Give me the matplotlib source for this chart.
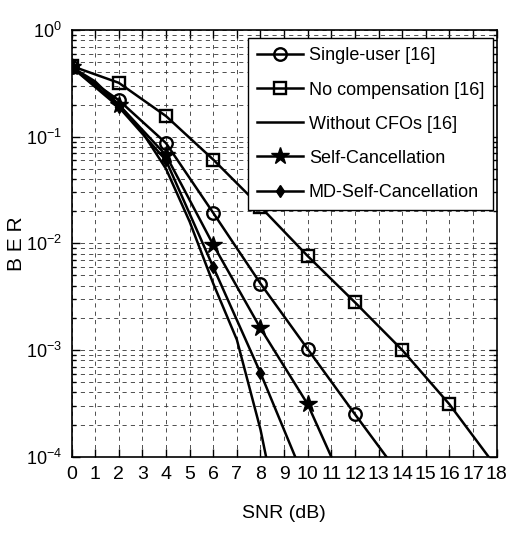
import matplotlib
matplotlib.use("Agg")
import matplotlib.pyplot as plt
from matplotlib import font_manager as fm
from matplotlib.ticker import LogLocator, NullFormatter

# ---------------------------------------------------------------------------
# Data
# ---------------------------------------------------------------------------
snr_single = [0, 2, 4, 6, 8, 10, 12, 14]
ber_single = [0.45, 0.22, 0.087, 0.0193, 0.0042, 0.00102, 2.5e-4, 6.3e-5]

snr_nocomp = [0, 2, 4, 6, 8, 10, 12, 14, 16, 18]
ber_nocomp = [0.46, 0.32, 0.156, 0.061, 0.022, 0.0076, 0.0028, 0.001, 3.1e-4, 7.9e-5]

snr_nocfo = [0, 1, 2, 3, 4, 5, 6, 7, 8, 9]
ber_nocfo = [0.45, 0.33, 0.2, 0.11, 0.05, 0.016, 0.0042, 0.00125, 1.8e-4, 1.5e-5]

snr_self = [0, 2, 4, 6, 8, 10, 12]
ber_self = [0.45, 0.2, 0.067, 0.0097, 0.0016, 3.1e-4, 3.2e-5]

snr_md = [0, 2, 4, 6, 8, 10]
ber_md = [0.45, 0.19, 0.06, 0.006, 6.1e-4, 5.2e-5]

labels = ["Single-user [16]", "No compensation [16]", "Without CFOs [16]",
          "Self-Cancellation", "MD-Self-Cancellation"]
x_ticks = list(range(0, 19))


def pick_font(names):
    for name in names:
        try:
            fm.findfont(name, fallback_to_default=False)
            return name
        except ValueError:
            continue
    return "DejaVu Sans"


font = pick_font(["Liberation Sans Narrow", "Liberation Sans", "Arial"])
plt.rcParams["font.family"] = [font, "DejaVu Sans"]
plt.rcParams["mathtext.fontset"] = "custom"
plt.rcParams["mathtext.rm"] = font
plt.rcParams["mathtext.it"] = font
plt.rcParams["mathtext.bf"] = font

fig = plt.figure(figsize=(5.09, 5.33), dpi=100)
ax = fig.add_axes([0.1405, 0.1431, 0.8353, 0.8006])

lw = 1.8
ax.plot(snr_single, ber_single, "k-", lw=lw, marker="o", ms=9, mfc="none",
        mew=1.7, label=labels[0])
ax.plot(snr_nocomp, ber_nocomp, "k-", lw=lw, marker="s", ms=9, mfc="none",
        mew=1.7, label=labels[1])
ax.plot(snr_nocfo, ber_nocfo, "k-", lw=lw, label=labels[2])
ax.plot(snr_self, ber_self, "k-", lw=lw, marker="*", ms=13, mfc="k",
        mew=1.0, label=labels[3])
ax.plot(snr_md, ber_md, "k-", lw=lw, marker="d", ms=6, mfc="k",
        mew=1.0, label=labels[4])

ax.set_yscale("log")
ax.set_xlim(0, 18)
ax.set_ylim(1e-4, 1)
ax.set_xticks(x_ticks)
ax.yaxis.set_major_locator(LogLocator(base=10, numticks=10))
ax.yaxis.set_minor_locator(LogLocator(base=10, subs=range(2, 10), numticks=10))
ax.yaxis.set_minor_formatter(NullFormatter())

# MATLAB-style dashed grid, minor lines on the log axis too
grid_style = dict(color="0.2", linestyle=(0, (5, 5)), linewidth=0.6)
ax.grid(True, which="major", axis="both", **grid_style)
ax.grid(True, which="minor", axis="y", **grid_style)
ax.set_axisbelow(True)

ax.tick_params(which="both", direction="in", top=True, right=True, width=1.0)
ax.tick_params(which="major", length=6)
ax.tick_params(which="minor", length=3)
ax.tick_params(axis="x", labelsize=14, pad=7)
ax.tick_params(axis="y", labelsize=13, pad=7)
for sp in ax.spines.values():
    sp.set_linewidth(1.2)

ax.set_xlabel("SNR (dB)", fontsize=14)
ax.xaxis.set_label_coords(0.5, -0.113)
ax.xaxis.label.set_va("top")
ax.set_ylabel("B E R", fontsize=15)
ax.yaxis.set_label_coords(-0.108, 0.5)

leg = ax.legend(loc="upper right", bbox_to_anchor=(0.992, 0.9805),
                borderaxespad=0, fontsize=13, handlelength=2.55,
                handletextpad=0.3, labelspacing=0.95, borderpad=0.5,
                fancybox=False, framealpha=1, edgecolor="k")
leg.get_frame().set_linewidth(1.0)

fig.savefig("out.png", dpi=100)
